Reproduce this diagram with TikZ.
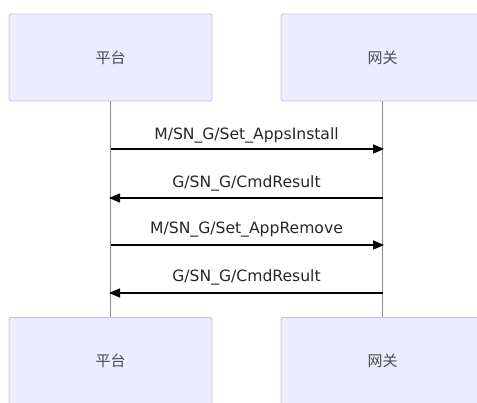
\documentclass[tikz,border=0pt]{standalone}
\usepackage{fontspec}
\setmainfont{DejaVu Sans}
\newfontfamily\cjk{Noto Sans CJK SC}
\usetikzlibrary{arrows.meta}
\definecolor{actorfill}{HTML}{ECECFF}
\definecolor{actorline}{HTML}{C4C0E4}
\tikzset{
  actor/.style={draw=actorline, fill=actorfill, line width=0.8pt, rounded corners=1.5pt,
    minimum width=203pt, minimum height=87pt, inner sep=0pt,
    font=\cjk\fontsize{15}{17}\selectfont, text=black!70},
  lifeline/.style={draw=black!45, line width=0.6pt},
  msg/.style={draw=black, line width=1.5pt, -{Triangle[length=11pt,width=9pt]}},
  msglabel/.style={font=\fontsize{15.6}{18}\selectfont, text=black!85, inner sep=0pt}
}
\begin{document}
\begin{tikzpicture}[x=1pt,y=-1pt]
\useasboundingbox (0,0) rectangle (477,403);
\begin{scope}
\clip (0,0) rectangle (477,403);
\node[actor] (pt) at (110.5,57.5) {平台};
\node[actor] (gw) at (382.5,57.5) {网关};
\node[actor] (ptb) at (110.5,361) {平台};
\node[actor] (gwb) at (382.5,361) {网关};
\end{scope}
\draw[lifeline] (pt.south) -- (ptb.north);
\draw[lifeline] (gw.south) -- (gwb.north);
\coordinate (a1) at (111,149); \coordinate (b1) at (384,149);
\coordinate (a2) at (383,198); \coordinate (b2) at (109,198);
\coordinate (a3) at (111,245); \coordinate (b3) at (384,245);
\coordinate (a4) at (383,293); \coordinate (b4) at (109,293);
\draw[msg] (a1) -- (b1);
\draw[msg] (a2) -- (b2);
\draw[msg] (a3) -- (b3);
\draw[msg] (a4) -- (b4);
\node[msglabel] (l1) at (246.5,135) {M/SN\_G/Set\_AppsInstall};
\node[msglabel] (l2) at (246.5,183) {G/SN\_G/CmdResult};
\node[msglabel] (l3) at (246.5,230) {M/SN\_G/Set\_AppRemove};
\node[msglabel] (l4) at (246.5,277) {G/SN\_G/CmdResult};
\end{tikzpicture}
\end{document}
